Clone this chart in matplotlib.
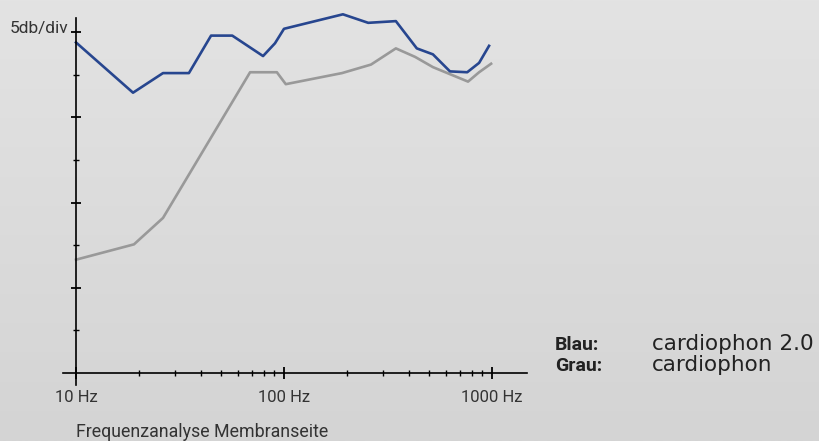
import matplotlib
matplotlib.use("Agg")
import matplotlib.pyplot as plt
import numpy as np
from matplotlib.ticker import FixedLocator, FixedFormatter, NullFormatter

# frequency response, level in dB (5 dB per division)
BLUE_HZ = [10, 18.8, 26.2, 34.9, 44.6, 56.4, 79.3, 90.5, 100, 192, 254, 345,
           435, 520, 628, 760, 867, 968]
BLUE_DB = [38.8, 32.9, 35.2, 35.2, 39.6, 39.6, 37.2, 38.7, 40.4, 42.1, 41.1, 41.3,
           38.1, 37.4, 35.4, 35.3, 36.4, 38.4]
GRAY_HZ = [10, 19.0, 26.2, 68.7, 92.4, 102, 190, 262, 345, 427, 520, 767, 867, 990]
GRAY_DB = [13.3, 15.1, 18.2, 35.3, 35.3, 33.9, 35.2, 36.2, 38.1, 37.1, 35.9, 34.2,
           35.3, 36.3]
X_TICKS = [10, 100, 1000]
X_LABELS = ["10 Hz", "100 Hz", "1000 Hz"]
LEGEND = [("Blau:", "cardiophon 2.0"), ("Grau:", "cardiophon")]

W, H = 820, 441
fig = plt.figure(figsize=(W / 100, H / 100), dpi=100)

# background gradient
bg = fig.add_axes([0, 0, 1, 1], zorder=-10)
grad = np.linspace(0, 1, 256).reshape(-1, 1)
bg.imshow(grad, aspect="auto", cmap=matplotlib.colors.LinearSegmentedColormap.from_list(
    "bg", ["#e3e3e3", "#d4d4d4"]), extent=[0, 1, 0, 1])
bg.axis("off")

# axes box in pixels: x 63..527, y 18..385
x0, x1, y0, y1 = 63, 527, 18, 385
ax = fig.add_axes([x0 / W, 1 - y1 / H, (x1 - x0) / W, (y1 - y0) / H])
ax.patch.set_alpha(0)
ax.set_xscale("log")
dec = 208.0
ax.set_xlim(10 ** (1 - (76 - x0) / dec), 10 ** (1 + (x1 - 76) / dec))
div = 42.6
ax.set_ylim(-5 * (y1 - 373) / div, 5 * (373 - y0) / div)

ax.plot(GRAY_HZ, GRAY_DB, color="#999999", lw=1.9, clip_on=False)
ax.plot(BLUE_HZ, BLUE_DB, color="#27468f", lw=1.9, clip_on=False)

for s in ["top", "right"]:
    ax.spines[s].set_visible(False)
ax.spines["left"].set_position(("data", 10))
ax.spines["bottom"].set_position(("data", 0))
for s in ["left", "bottom"]:
    ax.spines[s].set_linewidth(1.2)
    ax.spines[s].set_color("black")

ax.xaxis.set_major_locator(FixedLocator(X_TICKS))
ax.xaxis.set_major_formatter(FixedFormatter(X_LABELS))
minor = [m * d for d in (10, 100) for m in range(2, 10)]
ax.xaxis.set_minor_locator(FixedLocator(minor))
ax.xaxis.set_minor_formatter(NullFormatter())
ax.tick_params(axis="x", which="major", direction="inout", length=8, width=1.3,
               pad=8, labelsize=12, labelcolor="#333333")
ax.tick_params(axis="x", which="minor", direction="inout", length=4, width=1)

ax.yaxis.set_major_locator(FixedLocator([10, 20, 30, 40]))
ax.yaxis.set_minor_locator(FixedLocator([5, 15, 25, 35]))
ax.yaxis.set_major_formatter(NullFormatter())
ax.tick_params(axis="y", which="major", direction="inout", length=6.5, width=1.3)
ax.tick_params(axis="y", which="minor", direction="inout", length=5, width=1)

for lab in ax.get_xticklabels():
    lab.set_family("Roboto")

fig.text(68 / W, 1 - 33 / H, "5db/div", ha="right", va="baseline", fontsize=12.5,
         color="#333333", family="Roboto")
fig.text(76 / W, 1 - 437 / H, "Frequenzanalyse Membranseite", ha="left",
         va="baseline", fontsize=12.8, color="#333333", family="Roboto")

for i, (k, v) in enumerate(LEGEND):
    yy = 1 - (350 + i * 21) / H
    fig.text(555 / W, yy, k, ha="left", va="baseline", fontsize=14, fontweight="bold",
             color="#222222", family="Roboto")
    fig.text(652 / W, yy, v, ha="left", va="baseline", fontsize=15.5,
             color="#222222", family="DejaVu Sans")

fig.savefig("out.png", dpi=100)
